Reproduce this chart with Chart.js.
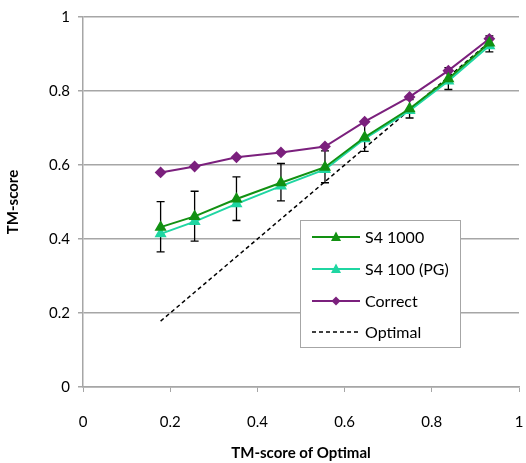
<!DOCTYPE html>
<html lang="en">
<head>
  <meta charset="UTF-8" />
  <title>TM-score</title>
  <script src="https://cdn.jsdelivr.net/npm/chart.js"></script>
  <style>
    body {
      margin: 0;
      background: #fff;
    }
    .wrap {
      width: 526px;
      height: 463px;
    }
  </style>
</head>
<body>
  <div class="wrap">
    <canvas id="chart" width="526" height="463"></canvas>
  </div>

  <script>
    // x positions (TM-score of Optimal)
    const optimalX = [0.178, 0.256, 0.352, 0.454, 0.555, 0.646, 0.749, 0.838, 0.932];

    const s4_1000 = [0.432, 0.461, 0.508, 0.552, 0.594, 0.675, 0.752, 0.833, 0.930];
    const s4_100pg = [0.414, 0.447, 0.495, 0.543, 0.588, 0.671, 0.747, 0.827, 0.922];
    const correct = [0.580, 0.596, 0.621, 0.634, 0.650, 0.717, 0.784, 0.855, 0.941];
    const optimal = [0.178, 0.256, 0.352, 0.454, 0.555, 0.646, 0.749, 0.838, 0.932];

    // error bars on S4 1000 (low / high)
    const errLow = [0.365, 0.394, 0.450, 0.503, 0.552, 0.637, 0.727, 0.804, 0.906];
    const errHigh = [0.501, 0.529, 0.568, 0.604, 0.638, 0.715, 0.777, 0.863, 0.949];

    const xTicks = [0, 0.2, 0.4, 0.6, 0.8, 1];

    const pts = (ys) => optimalX.map((x, i) => ({ x, y: ys[i] }));

    const FONT = 'Lato, "Open Sans", sans-serif';

    // error bars drawn from the scales
    const errorBars = {
      id: 'errorBars',
      beforeDatasetsDraw(chart) {
        const { ctx, scales: { x, y } } = chart;
        ctx.save();
        ctx.strokeStyle = '#000';
        ctx.lineWidth = 1.3;
        optimalX.forEach((v, i) => {
          const px = x.getPixelForValue(v);
          const top = y.getPixelForValue(errHigh[i]);
          const bot = y.getPixelForValue(errLow[i]);
          ctx.beginPath();
          ctx.moveTo(px, top); ctx.lineTo(px, bot);
          ctx.moveTo(px - 4, top); ctx.lineTo(px + 4, top);
          ctx.moveTo(px - 4, bot); ctx.lineTo(px + 4, bot);
          ctx.stroke();
        });
        ctx.restore();
      }
    };

    // legend box inside the plot
    const boxLegend = {
      id: 'boxLegend',
      afterDraw(chart) {
        const { ctx } = chart;
        const left = 300, top = 220, w = 160, h = 127;
        ctx.save();
        ctx.fillStyle = '#fff';
        ctx.fillRect(left, top, w, h);
        ctx.strokeStyle = '#a6a6a6';
        ctx.lineWidth = 1;
        ctx.strokeRect(left + 0.5, top + 0.5, w, h);
        const rows = [237, 269, 301, 332];
        chart.data.datasets.forEach((ds, i) => {
          const yy = rows[i];
          ctx.strokeStyle = ds.borderColor;
          ctx.lineWidth = ds.borderWidth;
          ctx.setLineDash(ds.borderDash || []);
          ctx.beginPath();
          ctx.moveTo(312, yy); ctx.lineTo(360, yy);
          ctx.stroke();
          ctx.setLineDash([]);
          if (ds.pointRadius > 0) {
            ctx.fillStyle = ds.backgroundColor;
            ctx.beginPath();
            const r = ds.pointRadius;
            if (ds.pointStyle === 'triangle') {
              ctx.moveTo(336, yy - r * 1.1);
              ctx.lineTo(336 + r, yy + r * 0.8);
              ctx.lineTo(336 - r, yy + r * 0.8);
            } else {
              ctx.moveTo(336, yy - r);
              ctx.lineTo(336 + r, yy);
              ctx.lineTo(336, yy + r);
              ctx.lineTo(336 - r, yy);
            }
            ctx.closePath();
            ctx.fill();
          }
          ctx.fillStyle = '#000';
          ctx.font = '16px ' + FONT;
          ctx.textBaseline = 'middle';
          ctx.fillText(ds.label, 365, yy + 1);
        });
        ctx.restore();
      }
    };

    new Chart(document.getElementById('chart'), {
      type: 'line',
      data: {
        datasets: [
          {
            label: 'S4 1000',
            data: pts(s4_1000),
            borderColor: '#129112',
            backgroundColor: '#129112',
            borderWidth: 2,
            pointStyle: 'triangle',
            pointRadius: 5
          },
          {
            label: 'S4 100 (PG)',
            data: pts(s4_100pg),
            borderColor: '#1fd6a2',
            backgroundColor: '#1fd6a2',
            borderWidth: 2,
            pointStyle: 'triangle',
            pointRadius: 5
          },
          {
            label: 'Correct',
            data: pts(correct),
            borderColor: '#7b207d',
            backgroundColor: '#7b207d',
            borderWidth: 2,
            pointStyle: 'rectRot',
            pointRadius: 4.5
          },
          {
            label: 'Optimal',
            data: pts(optimal),
            borderColor: '#000',
            backgroundColor: '#000',
            borderWidth: 1.5,
            borderDash: [4, 3],
            pointRadius: 0
          }
        ]
      },
      options: {
        responsive: false,
        animation: false,
        layout: { padding: { left: 0, right: 2, top: 16, bottom: 0 } },
        plugins: {
          legend: { display: false },
          tooltip: { enabled: false }
        },
        scales: {
          x: {
            type: 'linear',
            min: 0,
            max: 1,
            afterBuildTicks: (axis) => { axis.ticks = xTicks.map(v => ({ value: v })); },
            afterFit: (axis) => {
              axis.height = 76;
              axis.paddingLeft = 0;
              axis.paddingRight = 0;
            },
            grid: {
              display: true,
              drawOnChartArea: false,
              drawTicks: true,
              tickLength: 5,
              color: '#a6a6a6'
            },
            border: { color: '#a6a6a6', width: 1.5 },
            ticks: {
              color: '#000',
              font: { family: FONT, size: 15 },
              padding: 21,
              maxRotation: 0,
              callback: (v) => String(v)
            },
            title: {
              display: true,
              text: 'TM-score of Optimal',
              color: '#000',
              font: { family: FONT, size: 15, weight: 'bold' },
              padding: { top: 11, bottom: 1 }
            }
          },
          y: {
            min: 0,
            max: 1,
            afterFit: (axis) => { axis.width = 83; },
            ticks: {
              stepSize: 0.2,
              color: '#000',
              font: { family: FONT, size: 15 },
              padding: 8,
              callback: (v) => String(Math.round(v * 10) / 10)
            },
            grid: {
              color: '#a6a6a6',
              lineWidth: 1.5,
              tickLength: 5
            },
            border: { color: '#a6a6a6', width: 1.5 },
            title: {
              display: true,
              text: 'TM-score',
              color: '#000',
              font: { family: FONT, size: 15, weight: 'bold' },
              padding: { bottom: 12 }
            }
          }
        }
      },
      plugins: [errorBars, boxLegend]
    });
  </script>
</body>
</html>
